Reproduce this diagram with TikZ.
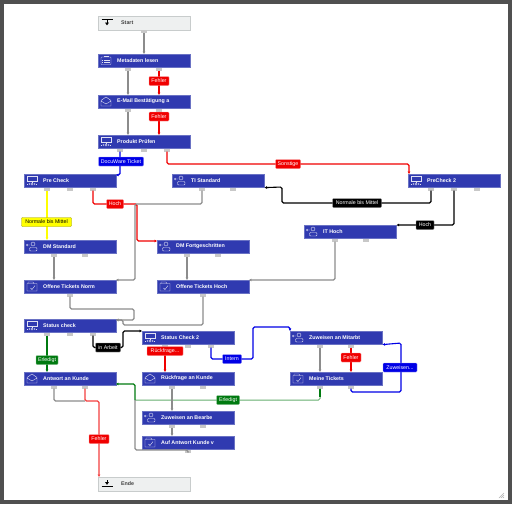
\documentclass[tikz,border=0pt]{standalone}
\usepackage{fontspec}
\setmainfont{Liberation Sans}
\usetikzlibrary{arrows.meta}
\definecolor{boxblue}{HTML}{303AB0}
\definecolor{boxedge}{HTML}{6A72C4}
\definecolor{endfill}{HTML}{EEF0F0}
\definecolor{endedge}{HTML}{C8CCCC}
\definecolor{portgray}{HTML}{C8C8C8}
\definecolor{linegray}{HTML}{8C8C8C}
\definecolor{myred}{HTML}{F00000}
\definecolor{myblue}{HTML}{0000E6}
\definecolor{mygreen}{HTML}{007A10}
\definecolor{myyellow}{HTML}{FFFF00}
\definecolor{framegray}{HTML}{505050}
\tikzset{
 flowbox/.style={draw=boxedge,fill=boxblue,line width=.6pt,minimum width=92pt,minimum height=13pt,inner sep=0pt,anchor=north west},
 endbox/.style={draw=endedge,fill=endfill,line width=.6pt,minimum width=92pt,minimum height=14pt,inner sep=0pt,anchor=north west},
 boxtext/.style={text=white,font=\bfseries\fontsize{5.3}{6}\selectfont,inner sep=0pt,anchor=west},
 endtext/.style={text=black!75,font=\bfseries\fontsize{5.3}{6}\selectfont,inner sep=0pt,anchor=west},
 port/.style={fill=portgray,minimum width=5.5pt,minimum height=3pt,inner sep=0pt,anchor=north},
 conn/.style={line width=1.1pt,rounded corners=1.5pt,-{Latex[length=2.4pt,width=3pt]}},
 cgray/.style={conn,draw=linegray,line width=1.3pt},
 cred/.style={conn,draw=myred},
 cblue/.style={conn,draw=myblue},
 cgreen/.style={conn,draw=mygreen},
 cblack/.style={conn,draw=black},
 cyellow/.style={conn,draw=myyellow,line width=1.5pt},
 tag/.style={font=\fontsize{5.3}{6}\selectfont,inner xsep=1.3pt,inner ysep=0pt,minimum height=9pt,line width=.4pt,rounded corners=.8pt},
 tagred/.style={tag,fill=myred,draw=myred!40,text=white},
 tagblue/.style={tag,fill=myblue,draw=myblue!40,text=white},
 taggreen/.style={tag,fill=mygreen,draw=mygreen!40,text=white},
 tagblack/.style={tag,fill=black,draw=black!40,text=white},
 tagyellow/.style={tag,fill=myyellow,draw=myyellow!60!black,text=black},
 icn/.style={draw=white!85!boxblue,line width=.4pt},
 pics/ilist/.style={code={\draw[icn,rounded corners=.6pt] (-5,-3.5) rectangle (5,4);\draw[icn] (-2,-.8)--(3.5,-.8) (-2,1.7)--(3.5,1.7) (-4,-.8)--(-3,-.8) (-4,1.7)--(-3,1.7) (-2,-3.5)--(-2,-4.5)--(2,-4.5)--(2,-3.5);}},
 pics/imail/.style={code={\draw[icn] (-5,-1)--(0,-4.5)--(5,-1)--(5,4.5)--(-5,4.5)--cycle (-5,-.5)--(0,2.5)--(5,-.5);}},
 pics/iswitch/.style={code={\draw[icn] (-5,-4.5) rectangle (5,.5);\draw[icn] (0,.5)--(0,2.5) (-5,3.5)--(-3.6,3.5) (3.6,3.5)--(5,3.5);\draw[icn] (0,3.5) circle (1.1) (-2.7,3.5) circle (.5) (2.7,3.5) circle (.5);}},
 pics/iperson/.style={code={\draw[icn] (1,-2.5) circle (2);\draw[icn,rounded corners=1pt] (-2.5,4.5)--(-2.5,1)--(5,1)--(5,4.5)--cycle;\draw[icn] (-5.5,-1.5)--(-2,-1.5) (-4.5,-2.5)--(-5.5,-1.5)--(-4.5,-.5);}},
 pics/ifolder/.style={code={\draw[icn] (-5,-3)--(-5,4.5)--(5,4.5)--(5,-3)--cycle (-4,-3)--(-4,-4.5)--(1,-4.5)--(2,-3);\draw[icn] (-1.5,1.5)--(0,3)--(3,-1);}},
 pics/iend/.style={code={\draw[black,line width=.8pt] (-5.5,3.5)--(5.5,3.5);\draw[black,line width=1pt,-{Latex[length=2.8pt,width=4pt]}] (0,-3)--(0,2);}},
 pics/istart/.style={code={\draw[black,line width=.8pt] (-5.5,-3.5)--(5.5,-3.5);\draw[black,line width=1pt,-{Latex[length=2.8pt,width=4pt]}] (0,-2.5)--(0,3);}},
}
% name, x, y, text, icon, port x list
\newcommand{\stepnode}[6]{%
 \node[flowbox] (#1) at (#2,#3) {};
 \pic at (#2+8,#3+6.5) {#5};
 \node[boxtext] (#1-t) at (#2+19,#3+6.5) {#4};
 \foreach \px [count=\pn] in {#6} {\node[port] (#1-p\pn) at (\px,#3+13.3) {};}
}
\begin{document}
\begin{tikzpicture}[x=1pt,y=-1pt]
\useasboundingbox (0,0) rectangle (512,504);
\fill[white] (0,0) rectangle (512,504);
\draw[framegray,line width=3.6pt] (1.8,1.8) rectangle (510.2,502.2);
% nodes
\node[endbox] (start) at (98,16) {};
\pic at (107,22.5) {istart};
\node[endtext] (start-t) at (121,23) {Start};
\node[port] (start-p1) at (144,30) {};
\stepnode{meta}{98}{54}{Metadaten lesen}{ilist}{128,159}
\stepnode{mail}{98}{95}{E-Mail Bestätigung a}{imail}{128,159}
\stepnode{prod}{98}{135}{Produkt Prüfen}{iswitch}{120,144,167}
\stepnode{pre}{24}{174}{Pre Check}{iswitch}{47,70,93}
\stepnode{tis}{172}{174}{TI Standard}{iperson}{202,233}
\stepnode{pre2}{408}{174}{PreCheck 2}{iswitch}{431,454,477}
\stepnode{ith}{304}{225}{IT Hoch}{iperson}{335,366}
\stepnode{dms}{24}{240}{DM Standard}{iperson}{54,85}
\stepnode{dmf}{157}{240}{DM Fortgeschritten}{iperson}{187,218}
\stepnode{otn}{24}{280}{Offene Tickets Norm}{ifolder}{70}
\stepnode{oth}{157}{280}{Offene Tickets Hoch}{ifolder}{203}
\stepnode{sc}{24}{319}{Status check}{iswitch}{47,70,93}
\stepnode{sc2}{142}{331}{Status Check 2}{iswitch}{165,188,211}
\stepnode{zum}{290}{331}{Zuweisen an Mitarbt}{iperson}{320,351}
\stepnode{ant}{24}{372}{Antwort an Kunde}{imail}{54,85}
\stepnode{rue}{142}{372}{Rückfrage an Kunde}{imail}{172,203}
\stepnode{mei}{290}{372}{Meine Tickets}{ifolder}{320,351}
\stepnode{zub}{142}{411}{Zuweisen an Bearbe}{iperson}{172,203}
\stepnode{auf}{142}{436}{Auf Antwort Kunde v}{ifolder}{188}
\node[endbox] (ende) at (98,477) {};
\pic at (107,483) {iend};
\node[endtext] (ende-t) at (121,484) {Ende};
% connectors
\draw[cgray] (start-p1.south) -- (meta.north -| start-p1);
\draw[cgray] (meta-p1.south) -- (mail.north -| meta-p1);
\draw[cred] (meta-p2.south) -- (mail.north -| meta-p2);
\draw[cgray] (mail-p1.south) -- (prod.north -| mail-p1);
\draw[cred] (mail-p2.south) -- (prod.north -| mail-p2);
\draw[cblue] (prod-p1.south) -- (120,175) -- (116,175);
\draw[cred] (prod-p3.south) -- (167,164) -- (409,164) -- (409,174);
\draw[cyellow] (pre-p1.south) -- (dms.north -| pre-p1);
\draw[cred] (pre-p3.south) -- (93,204) -- (137,204) -- (137,241) -- (157,241);
\draw[cgray] (tis-p1.south) -- (202,204) -- (135,204) -- (135,280) -- (116,280);
\draw[cblack] (pre2-p1.south) -- (431,203) -- (282,203) -- (282,187) -- (tis.south east);
\draw[cblack] (pre2-p2.south) -- (454,225) -- (ith.north east);
\draw[cgray] (ith-p1.south) -- (335,280) -- (249,280);
\draw[cgray] (dms-p1.south) -- (otn.north -| dms-p1);
\draw[cgray] (dmf-p1.south) -- (oth.north -| dmf-p1);
\draw[cgray] (otn-p1.south) -- (70,309) -- (134,309) -- (134,320) -- (116,320);
\draw[cgray] (oth-p1.south) -- (203,325) -- (123,325) -- (123,320) -- (116,320);
\draw[cgreen] (sc-p1.south) -- (ant.north -| sc-p1);
\draw[cblack] (sc-p3.south) -- (93,347.5) -- (123,347.5) -- (123,331) -- (sc2.north west);
\draw[cred] (sc2-p1.south) -- (rue.north -| sc2-p1);
\draw[cblue] (sc2-p3.south) -- (211,359) -- (253,359) -- (253,327) -- (290,327) -- (zum.north west);
\draw[cgray] (zum-p1.south) -- (mei.north -| zum-p1);
\draw[cred] (zum-p2.south) -- (mei.north -| zum-p2);
\draw[cblue] (mei-p2.south) -- (351,392) -- (401,392) -- (401,343) -- (zum.south east);
\draw[mygreen!60!white,line width=1pt,rounded corners=1.5pt] (mei-p1.south) -- (320,400) -- (135,400);
\draw[cgreen] (135,400) -- (135,384) -- (116,384);
\draw[mygreen,line width=1.1pt] (mei-p1.south) -- (320,397);
\draw[cgray,-] (auf-p1.south) -- (188,450) -- (135,450) -- (135,400);
\draw[cgray] (rue-p1.south) -- (zub.north -| rue-p1);
\draw[cgray] (zub-p1.south) -- (auf.north -| zub-p1);
\draw[cgray,-] (ant-p1.south) -- (54,401) -- (85,401);
\draw[cred,draw=myred!75!white] (ant-p2.south) -- (85,401) -- (99,401) -- (99,477);
% labels
\node[tagred,minimum width=20pt] (l1) at (159,81) {Fehler};
\node[tagred,minimum width=20pt] (l2) at (159,116.5) {Fehler};
\node[tagblue,minimum width=45pt] (l3) at (121,161.5) {DocuWare Ticket};
\node[tagred,minimum width=25pt] (l4) at (288,164) {Sonstige};
\node[tagred,minimum width=17pt] (l5) at (115,204) {Hoch};
\node[tagyellow,minimum width=50pt] (l6) at (46.5,222) {Normale bis Mittel};
\node[tagblack,minimum width=49pt] (l7) at (357,203) {Normale bis Mittel};
\node[tagblack,minimum width=18pt] (l8) at (425,225) {Hoch};
\node[taggreen,minimum width=22pt] (l9) at (47,360) {Erledigt};
\node[tagblack,minimum width=25pt] (l10) at (108,347.5) {in Arbeit};
\node[tagred,minimum width=36pt] (l11) at (165,351) {Rückfrage...};
\node[tagblue,minimum width=19pt] (l12) at (232,359) {Intern};
\node[tagred,minimum width=20pt] (l13) at (351,357.5) {Fehler};
\node[tagblue,minimum width=34pt] (l14) at (400,367.5) {Zuweisen...};
\node[taggreen,minimum width=23pt] (l15) at (228,400) {Erledigt};
\node[tagred,minimum width=20pt] (l16) at (99,439) {Fehler};
% resize grip
\draw[black!30,line width=.4pt] (499,498)--(504,493) (501,498)--(504,495) (503,498)--(504,497);
\end{tikzpicture}
\end{document}
